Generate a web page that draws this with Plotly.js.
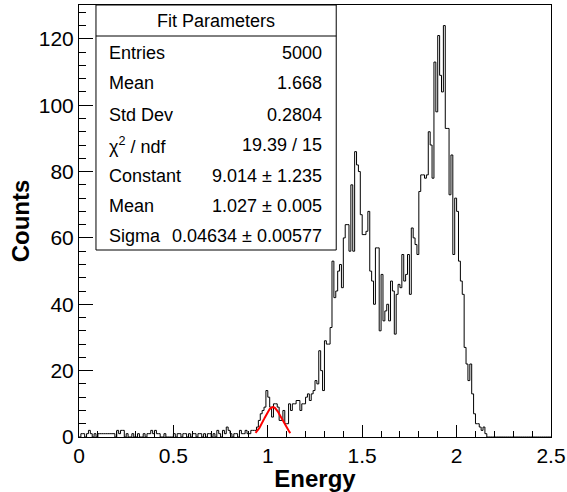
<!DOCTYPE html>
<html>
<head>
<meta charset="utf-8">
<script src="https://cdn.plot.ly/plotly-3.0.1.min.js"></script>
<style>html,body{margin:0;padding:0;background:#fff;}#plot{width:567px;height:492px;}</style>
</head>
<body>
<div id="plot"></div>
<script>
// Histogram: 250 bins of width 0.01 from 0 to 2.5
var xMin = 0.0;
var binWidth = 0.01;
var counts = [
  0,1,1,0,1,2,1,0,1,0,
  1,1,1,1,1,1,1,1,1,0,
  2,1,2,2,0,1,0,0,1,0,
  0,1,0,0,1,0,1,1,2,1,
  2,1,1,0,0,1,0,0,0,0,
  1,0,1,1,0,1,1,0,1,0,
  1,1,0,1,1,0,1,0,1,1,
  0,1,0,2,1,0,2,1,3,2,
  1,0,1,1,0,2,1,1,2,1,
  1,2,2,2,3,5,7,8,9,14,
  12,9,6,10,10,9,5,5,8,4,
  4,10,8,10,10,11,11,8,10,10,
  12,13,11,13,14,17,16,26,20,14,
  29,28,28,33,53,42,44,50,52,45,
  60,64,64,56,76,56,86,82,80,67,
  61,61,62,68,50,47,40,57,57,32,
  49,35,38,40,35,47,44,31,43,46,
  45,55,47,49,55,43,63,60,58,55,
  74,79,79,78,79,92,88,78,113,98,
  121,109,104,124,93,93,73,85,55,72,
  68,53,47,43,27,22,17,22,13,7,
  4,4,3,2,3,1,0,0,0,0,
  0,0,0,0,0,0,0,0,0,0,
  0,0,0,0,0,0,0,0,0,0,
  0,0,0,0,0,0,0,0,0,0
];

// Gaussian fit parameters (from the stats box)
var fitConstant = 9.014;
var fitMean = 1.027;
var fitSigma = 0.04634;
var fitRange = [0.935, 1.12];

// Stats box rows
var statLabels = ["Entries", "Mean", "Std Dev", "\u03C7<sup>2</sup> / ndf", "Constant", "Mean", "Sigma"];
var statValues = ["5000", "1.668", "0.2804", "19.39 / 15", "9.014 \u00B1 1.235", "1.027 \u00B1 0.005", "0.04634 \u00B1 0.00577"];
var statsTitle = "Fit Parameters";

// ---- build traces ----
var hx = [], hy = [];
for (var i = 0; i < counts.length; i++) {
  hx.push(xMin + i * binWidth);
  hy.push(counts[i]);
}
hx.push(xMin + counts.length * binWidth);
hy.push(counts[counts.length - 1]);

var fx = [], fy = [];
var nF = 100;
for (var k = 0; k <= nF; k++) {
  var xv = fitRange[0] + (fitRange[1] - fitRange[0]) * k / nF;
  fx.push(xv);
  fy.push(fitConstant * Math.exp(-0.5 * Math.pow((xv - fitMean) / fitSigma, 2)));
}

var traces = [
  {x: hx, y: hy, type: 'scatter', mode: 'lines', line: {shape: 'hv', color: '#000', width: 1}, hoverinfo: 'skip'},
  {x: fx, y: fy, type: 'scatter', mode: 'lines', line: {color: '#ff0000', width: 2}, hoverinfo: 'skip'}
];

var FONT = "Liberation Sans, Arial, Helvetica, sans-serif";

// plot area geometry (pixels) for stats box placement
var plotL = 79, plotR = 551.5, plotT = 5, plotB = 437;
var pw = plotR - plotL, ph = plotB - plotT;
function px2x(p) { return (p - plotL) / pw; }
function py2y(p) { return (plotB - p) / ph; }

var boxL = 96, boxR = 336.5, boxT = 5, boxB = 250, sepY = 36;
var rowY = [53, 83.5, 114.5, 145, 175.5, 206, 236];

var annotations = [];
annotations.push({xref: 'paper', yref: 'paper', x: px2x((boxL + boxR) / 2), y: py2y(21), text: statsTitle,
  showarrow: false, xanchor: 'center', yanchor: 'middle', font: {family: FONT, size: 18, color: '#000'}});
for (var r = 0; r < statLabels.length; r++) {
  annotations.push({xref: 'paper', yref: 'paper', x: px2x(107), y: py2y(rowY[r]), text: statLabels[r],
    showarrow: false, xanchor: 'left', yanchor: 'middle', font: {family: FONT, size: 18, color: '#000'}});
  annotations.push({xref: 'paper', yref: 'paper', x: px2x(324), y: py2y(rowY[r]), text: statValues[r],
    showarrow: false, xanchor: 'right', yanchor: 'middle', font: {family: FONT, size: 18, color: '#000'}});
}

var shapes = [
  {type: 'rect', xref: 'paper', yref: 'paper', x0: px2x(boxL), x1: px2x(boxR), y0: py2y(boxB), y1: py2y(boxT),
   line: {color: '#000', width: 1}, fillcolor: '#fff', layer: 'above'},
  {type: 'line', xref: 'paper', yref: 'paper', x0: px2x(boxL), x1: px2x(boxR), y0: py2y(sepY), y1: py2y(sepY),
   line: {color: '#000', width: 1}, layer: 'above'}
];

var layout = {
  width: 567, height: 492,
  margin: {l: plotL, r: 567 - plotR, t: plotT, b: 492 - plotB},
  paper_bgcolor: '#fff', plot_bgcolor: '#fff',
  showlegend: false,
  font: {family: FONT, color: '#000'},
  xaxis: {
    range: [0, 2.5], tick0: 0, dtick: 0.5, ticks: 'inside', ticklen: 12, tickwidth: 1, tickcolor: '#000',
    showline: true, linecolor: '#000', linewidth: 1, mirror: true, showgrid: false, zeroline: false,
    tickfont: {family: FONT, size: 21, color: '#000'},
    minor: {dtick: 0.1, ticks: 'inside', ticklen: 6, tickwidth: 1, tickcolor: '#000', showgrid: false},
    title: {text: 'Energy', font: {family: FONT, size: 24, weight: 'bold', color: '#000'}, standoff: 0}
  },
  yaxis: {
    range: [0, 130.2], tick0: 0, dtick: 20, ticks: 'inside', ticklen: 14, tickwidth: 1, tickcolor: '#000',
    showline: true, linecolor: '#000', linewidth: 1, mirror: true, showgrid: false, zeroline: false,
    tickfont: {family: FONT, size: 21, color: '#000'},
    minor: {dtick: 4, ticks: 'inside', ticklen: 7, tickwidth: 1, tickcolor: '#000', showgrid: false},
    title: {text: 'Counts', font: {family: FONT, size: 24, weight: 'bold', color: '#000'}, standoff: 2}
  },
  annotations: annotations,
  shapes: shapes
};

Plotly.newPlot('plot', traces, layout, {staticPlot: true, displayModeBar: false});
</script>
</body>
</html>
